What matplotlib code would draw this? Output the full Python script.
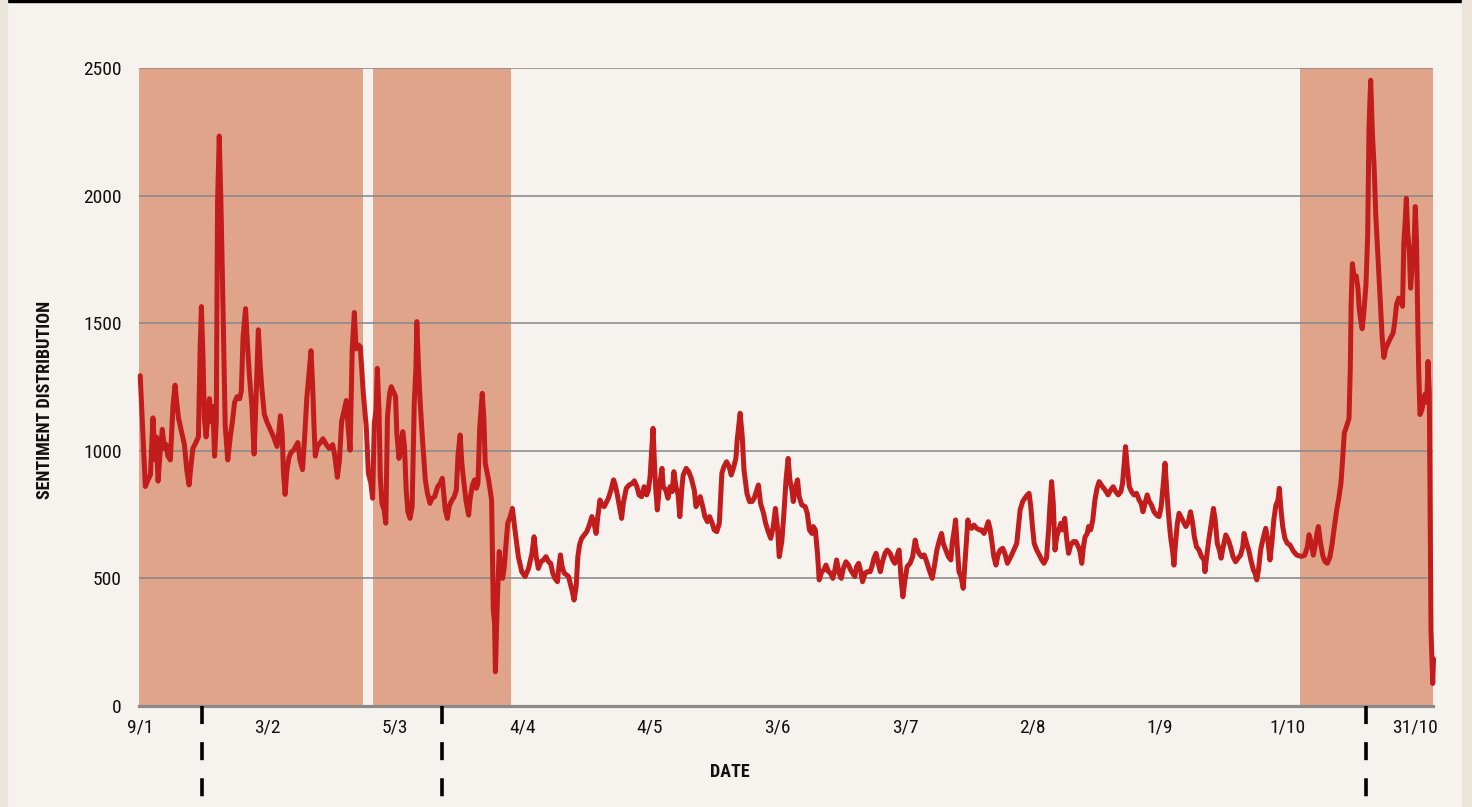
import matplotlib
matplotlib.use("Agg")
import matplotlib.pyplot as plt
from matplotlib.patches import Rectangle

plt.rcParams['font.family'] = ['Liberation Sans Narrow', 'Roboto Condensed', 'Liberation Sans', 'DejaVu Sans']

# observation index (one tick label every 30 observations) and sentiment value
obs = [
    0.0, 1.2, 1.9, 2.4, 3.0, 3.5, 3.8, 4.2, 4.7, 5.2, 5.7, 6.1, 6.5, 7.1, 7.7, 8.2, 8.6, 9.0, 9.8, 10.4,
    11.0, 11.5, 11.9, 12.4, 13.1, 13.7, 14.1, 14.4, 14.8, 15.1, 15.5, 15.9, 16.3, 16.7, 17.1, 17.5, 17.9, 18.2, 18.6, 19.0,
    19.5, 20.0, 20.6, 21.2, 21.7, 22.2, 22.8, 23.4, 23.8, 24.2, 24.8, 25.2, 25.7, 26.3, 26.8, 27.3, 27.8, 28.2, 28.6, 29.2,
    29.8, 30.6, 31.4, 32.2, 32.6, 33.0, 33.4, 33.7, 34.1, 34.5, 35.0, 35.5, 36.1, 36.6, 37.1, 37.6, 38.2, 38.7, 39.2, 39.6,
    40.2, 40.6, 40.9, 41.2, 41.7, 42.4, 43.0, 43.8, 44.5, 45.3, 45.8, 46.4, 46.9, 47.4, 48.0, 48.5, 48.9, 49.4, 49.9, 50.4,
    50.8, 51.4, 51.8, 52.5, 53.2, 53.7, 54.3, 54.7, 55.1, 55.5, 55.8, 56.2, 56.5, 56.9, 57.4, 57.8, 58.2, 58.7, 59.1, 59.6,
    60.1, 60.4, 60.9, 61.3, 61.8, 62.2, 62.6, 63.0, 63.5, 64.0, 64.5, 64.9, 65.1, 65.5, 65.9, 66.5, 67.1, 67.6, 68.2, 68.7,
    69.3, 70.0, 70.6, 71.1, 71.5, 71.8, 72.3, 72.7, 73.2, 73.9, 74.4, 74.8, 75.3, 75.7, 76.2, 76.7, 77.3, 77.6, 78.2, 78.7,
    79.1, 79.5, 79.9, 80.5, 80.9, 81.2, 82.0, 82.7, 83.1, 83.4, 83.6, 83.9, 84.2, 84.5, 84.9, 85.3, 85.7, 86.1, 86.5, 87.1,
    87.6, 88.2, 89.0, 89.8, 90.6, 91.4, 92.2, 92.7, 93.2, 93.7, 94.3, 94.9, 95.5, 96.1, 96.6, 97.1, 97.6, 98.2, 98.5, 98.9,
    99.3, 99.8, 100.4, 100.8, 101.3, 101.7, 102.1, 102.6, 103.0, 103.4, 103.9, 104.5, 105.1, 105.7, 106.3, 106.8, 107.3, 107.7, 108.2, 108.6,
    109.2, 109.6, 110.2, 110.8, 111.4, 111.8, 112.3, 112.8, 113.3, 113.7, 114.4, 115.1, 115.8, 116.3, 116.9, 117.4, 118.0, 118.6, 119.2, 119.6,
    120.0, 120.4, 120.7, 121.0, 121.3, 121.7, 122.2, 122.8, 123.1, 123.7, 124.2, 124.7, 125.2, 125.6, 126.1, 126.6, 127.0, 127.5, 127.8, 128.5,
    129.1, 129.7, 130.4, 130.8, 131.4, 131.8, 132.4, 132.9, 133.5, 134.0, 134.5, 135.1, 135.7, 136.3, 136.9, 137.4, 138.0, 138.6, 139.1, 139.6,
    140.2, 140.5, 141.2, 141.7, 142.1, 142.8, 143.4, 144.0, 144.5, 145.1, 145.5, 146.0, 146.7, 147.2, 147.8, 148.4, 149.0, 149.5, 150.0, 150.4,
    151.0, 151.5, 152.0, 152.5, 152.9, 153.4, 153.7, 154.1, 154.7, 155.1, 155.7, 156.5, 157.0, 157.5, 158.1, 158.4, 158.9, 159.4, 159.8, 160.4,
    160.9, 161.4, 162.0, 162.5, 163.0, 163.5, 163.9, 164.5, 165.0, 165.5, 166.1, 166.7, 167.2, 167.7, 168.2, 168.6, 169.1, 169.6, 170.0, 170.6,
    171.1, 171.8, 172.2, 172.7, 173.2, 173.7, 174.2, 174.7, 175.3, 175.8, 176.5, 177.1, 177.6, 178.2, 178.6, 179.1, 179.5, 180.0, 180.5, 181.2,
    181.8, 182.4, 182.8, 183.3, 183.9, 184.5, 185.1, 185.7, 186.4, 186.9, 187.5, 188.1, 188.6, 189.0, 189.6, 190.2, 190.8, 191.1, 191.6, 191.9,
    192.3, 192.7, 193.2, 193.7, 194.2, 194.8, 195.1, 195.7, 196.2, 196.9, 197.5, 198.0, 198.6, 199.1, 199.6, 200.0, 200.5, 200.9, 201.4, 201.9,
    202.4, 203.0, 203.5, 204.1, 204.5, 205.1, 205.6, 206.3, 206.7, 207.1, 207.7, 208.2, 208.8, 209.2, 209.6, 210.0, 210.4, 211.0, 211.6, 212.2,
    212.7, 213.3, 213.8, 214.1, 214.5, 214.9, 215.3, 215.7, 216.2, 216.7, 217.1, 217.6, 218.0, 218.5, 219.0, 219.6, 220.2, 220.8, 221.2, 221.6,
    222.0, 222.4, 222.9, 223.2, 223.7, 224.2, 224.7, 225.2, 225.7, 226.5, 227.1, 227.8, 228.4, 229.0, 229.6, 230.2, 230.8, 231.2, 231.6, 231.9,
    232.3, 232.8, 233.3, 233.9, 234.5, 235.1, 235.6, 236.0, 236.5, 237.0, 237.5, 238.0, 238.6, 239.2, 239.8, 240.3, 240.8, 241.2, 241.6, 242.0,
    242.5, 243.0, 243.3, 243.6, 244.1, 244.5, 244.9, 245.5, 246.1, 246.7, 247.2, 247.7, 248.1, 248.6, 249.2, 249.8, 250.4, 250.6, 251.0, 251.5,
    252.2, 252.6, 253.0, 253.5, 254.0, 254.4, 254.9, 255.5, 256.1, 256.6, 257.2, 257.8, 258.4, 259.0, 259.5, 259.8, 260.4, 260.9, 261.4, 262.0,
    262.4, 262.8, 263.2, 263.7, 264.2, 264.6, 264.9, 265.4, 265.9, 266.4, 266.8, 267.3, 267.8, 268.1, 268.5, 268.9, 269.4, 270.0, 270.6, 271.4,
    272.2, 273.3, 274.1, 274.7, 275.1, 275.5, 276.1, 276.5, 276.9, 277.3, 277.8, 278.3, 278.8, 279.4, 280.0, 280.5, 281.0, 281.6, 282.1, 282.6,
    283.0, 283.4, 283.9, 284.5, 284.8, 285.0, 285.3, 285.7, 286.2, 286.6, 286.9, 287.2, 287.6, 288.0, 288.5, 288.9, 289.2, 289.6, 290.0, 290.4,
    290.8, 291.3, 291.8, 292.3, 292.7, 293.1, 293.7, 294.4, 294.9, 295.3, 295.7, 296.2, 296.6, 297.1, 297.4, 297.7, 298.0, 298.3, 298.7, 299.0,
    299.4, 299.8, 300.1, 300.4, 300.7, 300.9, 301.2, 301.6, 302.0, 302.4, 302.8, 303.1, 303.4, 303.6, 303.8, 304.2, 304.4,
]
sentiment = [
    1294, 860, 889, 905, 1129, 964, 1054, 881, 994, 1084, 1009, 1024, 979, 964, 1174, 1257, 1189, 1129, 1069, 1024,
    919, 866, 934, 1009, 1032, 1054, 1399, 1565, 1354, 1129, 1054, 1129, 1204, 1114, 1174, 979, 1114, 1970, 2233, 1970,
    1550, 1099, 964, 1054, 1114, 1189, 1212, 1204, 1234, 1444, 1557, 1429, 1294, 1174, 987, 1219, 1474, 1347, 1249, 1144,
    1114, 1084, 1054, 1017, 1069, 1137, 1069, 919, 829, 919, 972, 994, 1002, 1017, 1032, 964, 926, 1054, 1204, 1279,
    1392, 1249, 1099, 979, 1017, 1032, 1047, 1024, 1009, 1024, 979, 896, 964, 1114, 1159, 1197, 1099, 1002, 1399, 1542,
    1399, 1414, 1408, 1225, 1094, 912, 872, 814, 1108, 1160, 1323, 1160, 899, 794, 768, 716, 1134, 1225, 1251, 1232,
    1212, 1068, 970, 1003, 1075, 1016, 846, 761, 735, 781, 1186, 1330, 1506, 1330, 1186, 1029, 886, 833, 794, 814,
    820, 859, 872, 892, 820, 768, 735, 781, 801, 820, 846, 983, 1062, 951, 872, 801, 748, 807, 866, 886,
    853, 872, 1088, 1225, 1121, 951, 886, 807, 376, 324, 134, 324, 481, 605, 533, 500, 546, 637, 716, 742,
    774, 690, 585, 526, 507, 539, 598, 663, 585, 539, 565, 572, 585, 565, 559, 520, 500, 487, 539, 592,
    546, 520, 513, 507, 474, 448, 415, 467, 585, 631, 657, 670, 683, 709, 742, 716, 676, 742, 807, 788,
    781, 794, 814, 846, 886, 866, 827, 781, 735, 794, 853, 866, 872, 882, 859, 827, 820, 859, 827, 846,
    898, 1003, 1088, 964, 859, 768, 859, 931, 859, 846, 814, 859, 840, 918, 859, 827, 742, 859, 905, 931,
    918, 892, 846, 781, 801, 820, 781, 742, 722, 742, 722, 690, 683, 716, 912, 938, 957, 938, 905, 931,
    970, 1042, 1147, 1055, 925, 833, 801, 801, 814, 846, 866, 794, 755, 716, 683, 657, 703, 774, 696, 585,
    644, 755, 886, 970, 886, 846, 801, 846, 886, 820, 788, 781, 755, 690, 676, 703, 690, 598, 494, 526,
    533, 552, 526, 520, 500, 533, 572, 520, 500, 539, 565, 552, 533, 520, 507, 546, 559, 526, 487, 520,
    526, 526, 546, 579, 598, 559, 526, 565, 598, 611, 598, 572, 559, 592, 611, 494, 428, 494, 546, 559,
    585, 650, 618, 598, 585, 592, 565, 533, 500, 546, 611, 650, 676, 637, 611, 585, 572, 637, 690, 729,
    624, 526, 507, 461, 585, 729, 703, 696, 709, 696, 690, 690, 676, 696, 722, 696, 637, 585, 552, 592,
    611, 618, 598, 559, 572, 592, 611, 637, 703, 768, 801, 814, 827, 833, 781, 703, 637, 611, 592, 572,
    559, 579, 690, 781, 879, 794, 611, 663, 690, 716, 690, 735, 663, 598, 631, 644, 644, 624, 605, 559,
    624, 663, 676, 703, 690, 729, 807, 853, 879, 859, 846, 827, 846, 859, 840, 827, 840, 872, 951, 1016,
    938, 859, 840, 827, 833, 807, 794, 761, 794, 827, 801, 788, 761, 748, 742, 781, 872, 951, 846, 755,
    663, 605, 552, 624, 716, 755, 742, 722, 703, 722, 761, 716, 663, 624, 611, 585, 572, 526, 585, 650,
    729, 774, 729, 637, 611, 579, 624, 670, 650, 624, 585, 565, 579, 592, 624, 676, 637, 611, 572, 533,
    520, 494, 533, 611, 650, 676, 696, 650, 572, 650, 729, 787, 807, 853, 768, 703, 657, 637, 631, 607,
    591, 586, 591, 623, 671, 647, 591, 623, 671, 703, 639, 591, 567, 559, 583, 631, 695, 767, 815, 871,
    967, 1070, 1094, 1126, 1318, 1574, 1733, 1677, 1685, 1637, 1558, 1518, 1478, 1542, 1653, 1845, 2260, 2452, 2244, 2117,
    1925, 1765, 1605, 1446, 1366, 1398, 1422, 1446, 1462, 1510, 1574, 1598, 1590, 1566, 1813, 1893, 1989, 1861, 1781, 1637,
    1733, 1797, 1957, 1813, 1494, 1318, 1142, 1158, 1190, 1222, 1190, 1350, 1222, 775, 296, 88, 184,
]

tick_obs = [0, 30, 60, 90, 120, 150, 180, 210, 240, 270, 300]
tick_labels = ['9/1', '3/2', '5/3', '4/4', '4/5', '3/6', '3/7', '2/8', '1/9', '1/10', '31/10']

# highlighted periods (start, end) and event markers, in observation units
periods = [(-0.4, 52.4), (54.8, 87.3), (272.9, 304.2)]
events = [14.6, 71.1, 288.5]

bg = '#f6f3ee'
fig = plt.figure(figsize=(14.72, 8.07), dpi=100, facecolor=bg)
ax = fig.add_axes([0.0941, 0.1252, 0.8792, 0.7906])
ax.set_facecolor(bg)

for start, end in periods:
    ax.axvspan(start, end, color='#e0a48a', lw=0, zorder=0)

ax.set_yticks([0, 500, 1000, 1500, 2000, 2500])
ax.yaxis.grid(True, color='#8a8a8a', lw=1.3, alpha=0.9, zorder=1)
ax.set_axisbelow(False)
ax.plot(obs, sentiment, color='#c21c1c', lw=3.6, solid_joinstyle='round',
        solid_capstyle='round', zorder=3, clip_on=False)

ax.set_xlim(-0.4, 304.2)
ax.set_ylim(0, 2500)
ax.set_xticks(tick_obs)
ax.set_xticklabels(tick_labels)
for s in ['top', 'right', 'left']:
    ax.spines[s].set_visible(False)
ax.spines['bottom'].set_color('#8a8a8a')
ax.spines['bottom'].set_linewidth(2.3)
ax.spines['bottom'].set_zorder(2)
ax.tick_params(axis='both', length=0, labelsize=14, colors='#111111')
ax.tick_params(axis='y', pad=12)
ax.tick_params(axis='x', pad=9)

for e in events:
    ax.plot([e, e], [0, -0.17], transform=ax.get_xaxis_transform(), color='black',
            lw=2.6, ls=(0, (5, 5)), clip_on=False, zorder=4)

ax.text(-0.0723, 0.48, 'SENTIMENT DISTRIBUTION', transform=ax.transAxes, rotation=90,
        ha='center', va='center', fontsize=13, fontweight='bold', color='#111111')
ax.text(0.457, -0.1034, 'DATE', transform=ax.transAxes, ha='center', va='center',
        fontsize=13, fontweight='bold', color='#111111')

# page decoration: black top rule and darker side strips
fig.patches.append(Rectangle((0, 0.9975), 1, 0.0025, transform=fig.transFigure, color='black'))
fig.patches.append(Rectangle((0, 0), 0.0045, 1, transform=fig.transFigure, color='#ebe4da'))
fig.patches.append(Rectangle((0.9935, 0), 0.0065, 1, transform=fig.transFigure, color='#ebe4da'))

fig.savefig('out.png', dpi=100, facecolor=bg)
